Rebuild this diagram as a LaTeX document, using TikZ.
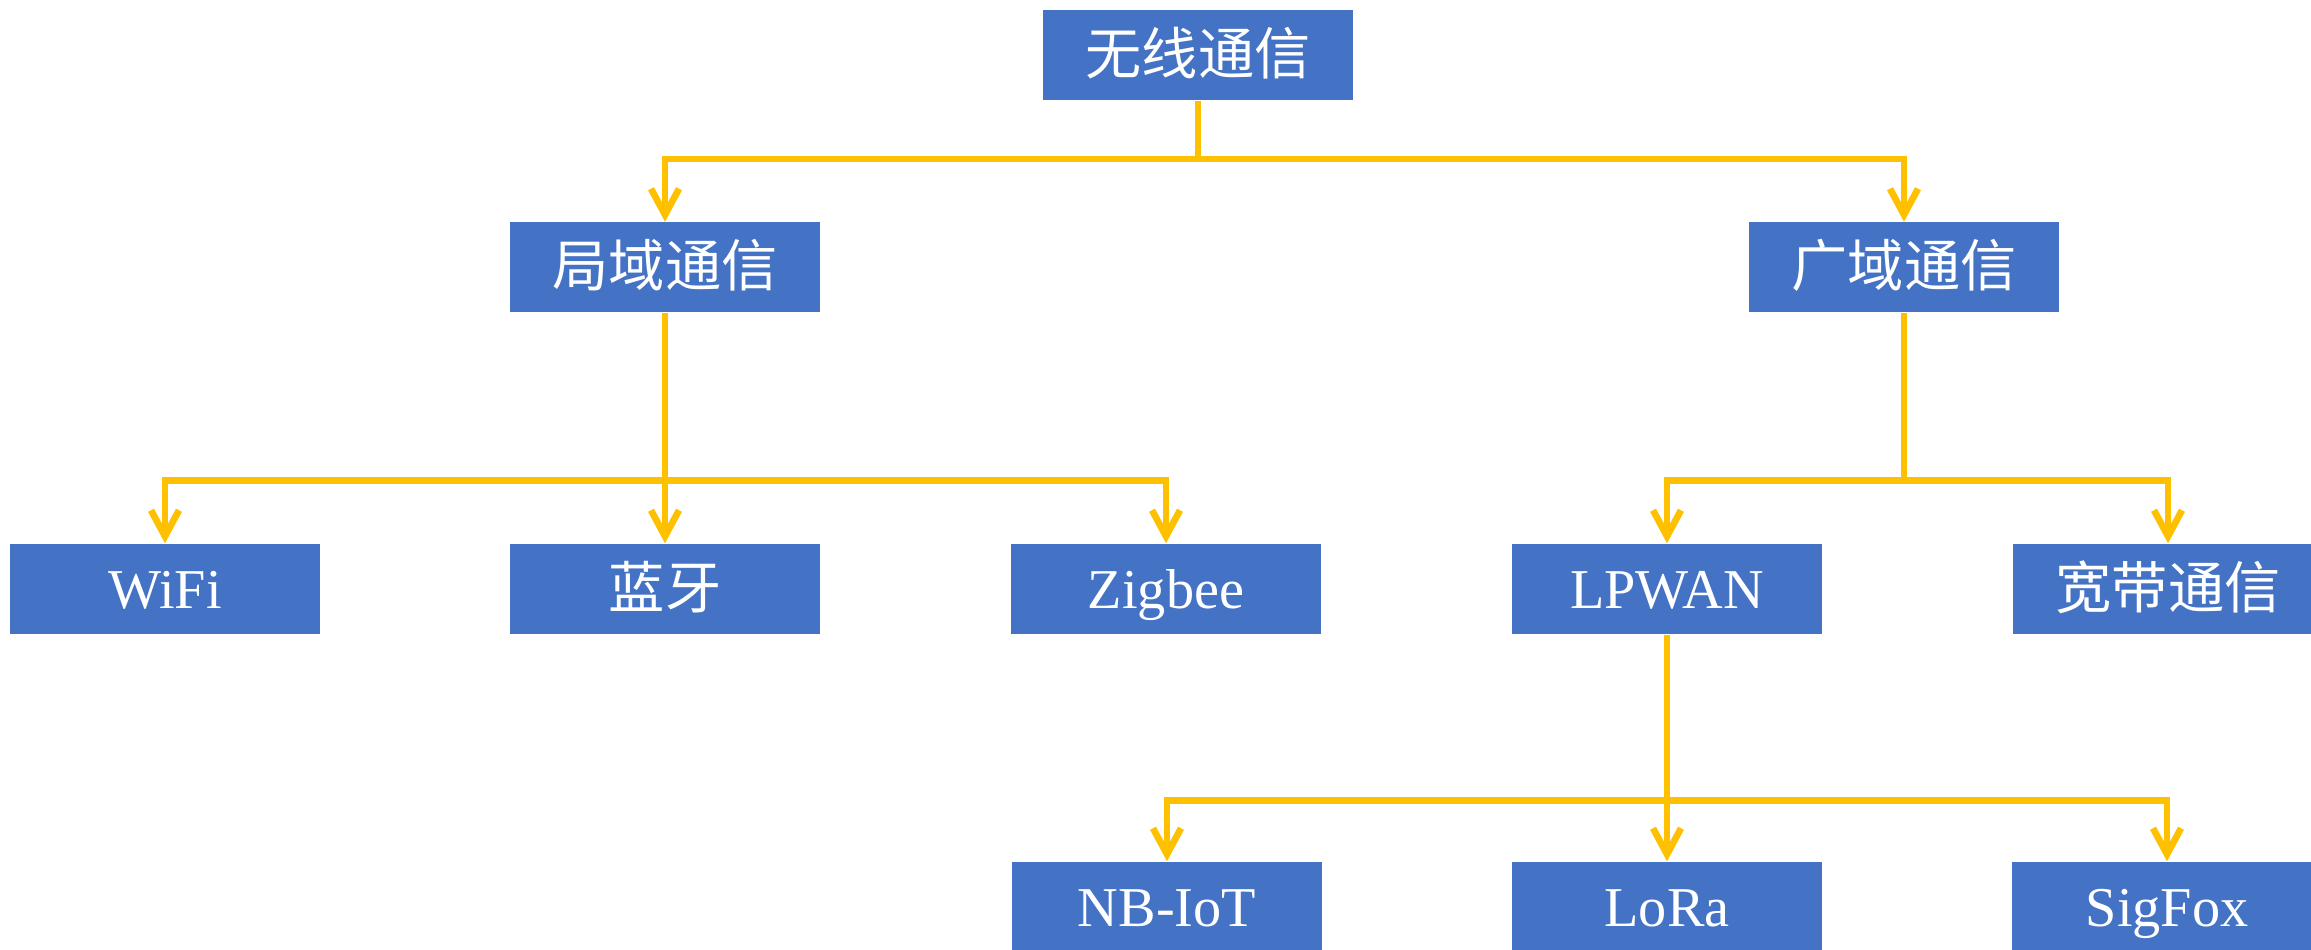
\documentclass[tikz,border=0pt]{standalone}
\usepackage{fontspec}
\setmainfont{Liberation Serif}
\newfontfamily\cjk{Noto Sans CJK SC}
\usetikzlibrary{arrows.meta}
\definecolor{boxblue}{HTML}{4472C4}
\definecolor{linkgold}{HTML}{FFC000}

\begin{document}
\begin{tikzpicture}[
        box/.style={fill=boxblue,text=white,minimum width=3.1cm,minimum height=0.9cm,
          inner sep=0pt,text height=14pt,text depth=3pt,font=\fontsize{16}{19}\selectfont},
        link/.style={draw=linkgold,line width=1.9pt,
          -{Straight Barb[length=2.6mm,width=2.8mm,line width=1.9pt]}}]
        	\useasboundingbox (0,0) rectangle (23.11,-9.50);

        	\node[box] (wireless) at (11.98,-0.553) {\cjk 无线通信};
        	\node[box] (local) at (6.65,-2.675) {\cjk 局域通信};
        	\node[box] (wide) at (19.04,-2.675) {\cjk 广域通信};

        	\node[box] (wifi) at (1.65,-5.89) {WiFi};
        	\node[box] (bt) at (6.65,-5.89) {\cjk 蓝牙};
        	\node[box] (zigbee) at (11.66,-5.89) {Zigbee};
        	\node[box] (lpwan) at (16.67,-5.89) {LPWAN};
        	\node[box] (broad) at (21.68,-5.89) {\cjk 宽带通信};

        	\node[box] (nbiot) at (11.67,-9.07) {NB-IoT};
        	\node[box] (lora) at (16.67,-9.07) {LoRa};
        	\node[box] (sigfox) at (21.67,-9.07) {SigFox};

        	\foreach \t in {local,wide} {
        		\draw[link] (wireless.south) -- ++(0,-0.58) -| (\t.north);
        	};
        	\foreach \t in {wifi,bt,zigbee} {
        		\draw[link] (local.south) -- ++(0,-1.675) -| (\t.north);
        	};
        	\foreach \t in {lpwan,broad} {
        		\draw[link] (wide.south) -- ++(0,-1.675) -| (\t.north);
        	};
        	\foreach \t in {nbiot,lora,sigfox} {
        		\draw[link] (lpwan.south) -- ++(0,-1.66) -| (\t.north);
        	};
        \end{tikzpicture}
\end{document}
